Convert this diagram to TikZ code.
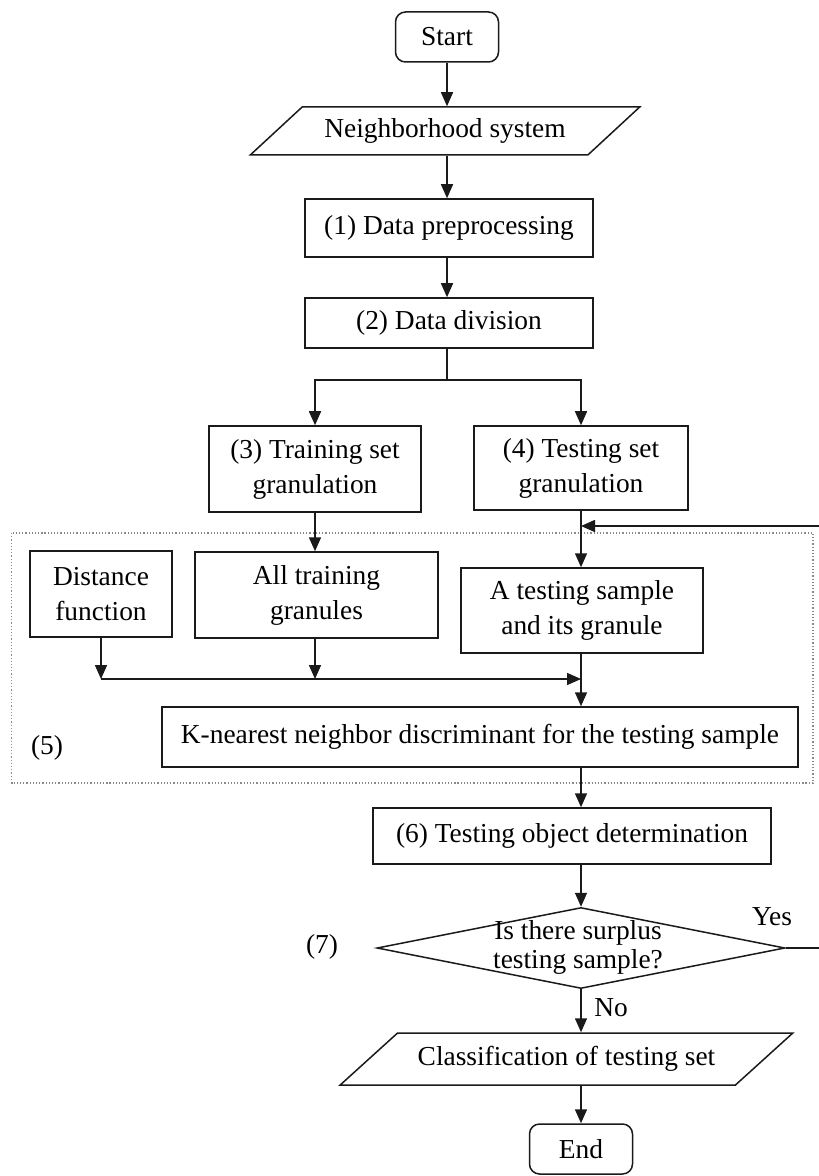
\documentclass[tikz,border=0pt]{standalone}
\usepackage{fontspec}
\setmainfont{Liberation Serif}
\usetikzlibrary{arrows.meta,shapes.geometric}
\definecolor{linegray}{HTML}{1A1A1A}
\definecolor{framegray}{HTML}{8A8A8A}

\begin{document}
\begin{tikzpicture}[x=0.5bp, y=-0.5bp, line width=0.75bp, >={Triangle[length=7bp,width=6bp]},
  font=\fontsize{13.7bp}{17.5bp}\selectfont,
  proc/.style={draw=linegray, align=center, inner sep=1bp},
  term/.style={draw=linegray, rounded corners=5bp, minimum width=51.5bp, minimum height=25bp},
  io/.style={draw=linegray, trapezium, trapezium stretches=true, inner sep=1bp},
  decision/.style={draw=linegray, diamond, minimum width=204bp, minimum height=40.5bp, inner sep=0pt},
  flow/.style={draw=linegray, ->},
  dotbox/.style={draw=framegray, densely dotted, line width=0.6bp}]
  \useasboundingbox (0,0) rectangle (818,1176);

  % main column
  \node[term] (start) at (447,37) {Start};
  \node[io, trapezium left angle=33, trapezium right angle=147,
        minimum width=195bp, minimum height=24bp] (nbh) at (445,131) {Neighborhood system};
  \node[proc, minimum width=144bp, minimum height=29bp] (prep) at (449,228) {(1) Data preprocessing};
  \node[proc, minimum width=144bp, minimum height=25bp] (div) at (449,323) {(2) Data division};
  \node[proc, minimum width=106bp, minimum height=43bp] (train) at (315,469) {(3) Training set\\granulation};
  \node[proc, minimum width=107bp, minimum height=42bp] (test) at (581,468) {(4) Testing set\\granulation};

  % step (5)
  \draw[dotbox] (11.5,533) rectangle (813,783);
  \node[proc, minimum width=71bp, minimum height=43bp] (dist) at (101,594) {Distance\\function};
  \node[proc, minimum width=121.5bp, minimum height=43bp] (gran) at (316.5,595) {All training\\granules};
  \node[proc, minimum width=121bp, minimum height=42.5bp] (sample) at (582,610.5) {A testing sample\\and its granule};
  \node[proc, minimum width=318bp, minimum height=30bp] (knn) at (480,737) {K-nearest neighbor discriminant for the testing sample};
  \node (lab5) at (47,748) {(5)};

  \node[proc, minimum width=199bp, minimum height=28bp] (det) at (572,836) {(6) Testing object determination};
  \node[decision] (dec) at (581,948) {};
  \node[align=center, font=\fontsize{13.7bp}{14.5bp}\selectfont] (dectext) at (578,947) {Is there surplus\\testing sample?};
  \node (lab7) at (322,947) {(7)};
  \node (labyes) at (772,917) {Yes};
  \node (labno) at (611,1008) {No};
  \node[io, trapezium left angle=29.7, trapezium right angle=150.3,
        minimum width=226.5bp, minimum height=26bp] (cls) at (566.5,1059) {Classification of testing set};
  \node[term] (end) at (581,1149) {End};

  \coordinate (split) at (449,380);
  \coordinate (fbin) at (581,526);
  \coordinate (merge) at (581,679);
  \coordinate (mleft) at (101,679);

  \draw[flow] (start) -- (start |- nbh.north);
  \draw[flow] (start |- nbh.south) -- (start |- prep.north);
  \draw[flow] (start |- prep.south) -- (start |- div.north);
  \draw[linegray] (start |- div.south) -- (start |- split);
  \draw[flow] (start |- split) -| (train.north);
  \draw[flow] (start |- split) -| (test.north);
  \draw[flow] (train.south) -- (train.south |- gran.north);
  \draw[flow] (test.south) -- (test.south |- sample.north);
  \draw[flow] (dist.south) -- (mleft);
  \draw[flow] (train.south |- gran.south) -- (train.south |- merge);
  \draw[flow] (mleft) -- (merge);
  \draw[flow] (test.south |- sample.south) -- (test.south |- knn.north);
  \draw[flow] (test.south |- knn.south) -- (test.south |- det.north);
  \draw[flow] (test.south |- det.south) -- (dec.north);
  \draw[flow] (dec.south) -- (dec.south |- cls.north);
  \draw[flow] (end |- cls.south) -- (end.north);
  \draw[flow] (dec.east) -- (850,948) |- (fbin);
\end{tikzpicture}
\end{document}
